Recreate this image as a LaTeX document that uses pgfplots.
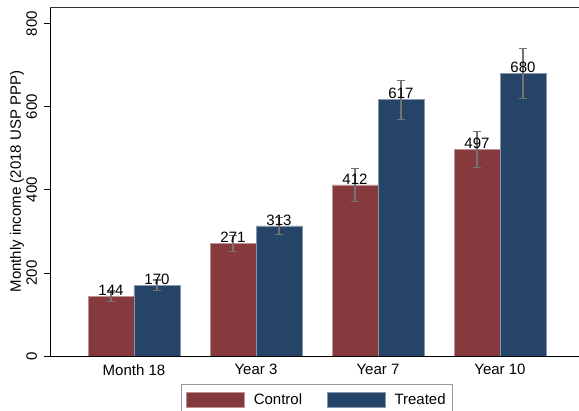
\documentclass[border=0pt]{standalone}
\usepackage{pgfplots}
\pgfplotsset{compat=1.18}
\usepackage{pgfplotstable}
\usepackage{fontspec}
\setmainfont{Liberation Sans}
\definecolor{ctrl}{RGB}{134,58,62}
\definecolor{trt}{RGB}{38,68,104}
\pgfplotstableread{
x c ce t te
0 144 13 170 13
1 271 20 313 20
2 412 40 617 47
3 497 43 680 60
}\data
\begin{document}
\begin{tikzpicture}[font=\fontsize{15}{18}\selectfont]
\begin{axis}[
  name=ax,
  scale only axis, width=534pt, height=349pt,
  xmin=-0.6885, xmax=3.6885, ymin=0, ymax=840,
  axis x line=bottom, axis y line=left,
  axis line style={-, black, line width=0.8pt},
  /pgf/number format/assume math mode=true,
  xtick={0,1,2,3}, xticklabels={Month 18, Year 3, Year 7, Year 10},
  major x tick style={draw=none},
  xticklabel style={anchor=north, inner sep=0pt, yshift=-2pt},
  ytick={0,200,400,600,800},
  tick align=outside, major tick length=6pt,
  major y tick style={black, line width=0.8pt},
  yticklabel style={xshift=-7pt, rotate=90, anchor=base, inner sep=0pt},
  ylabel={Monthly income (2018 USP PPP)},
  ylabel style={at={(axis description cs:-0.0618,0.5)}, anchor=center, rotate=0},
  ybar, bar width=0.377,
  legend columns=2,
  legend style={at={(0.5,-0.0802)}, anchor=north, draw=gray!80, line width=0.8pt,
    inner xsep=5pt, inner ysep=7pt,
    /tikz/every odd column/.append style={column sep=7pt},
    /tikz/every even column/.append style={column sep=23pt}},
  legend image code/.code={\fill[#1] (0pt,-7.5pt) rectangle (58pt,7.5pt);},
]
\addplot[fill=ctrl, draw=ctrl!55!white, line width=0.4pt, bar shift=-0.1885,
  error bars/.cd, y dir=both, y explicit,
  error bar style={gray!90!black, line width=1.1pt},
  error mark options={rotate=90, gray!90!black, mark size=4pt, line width=1.1pt}]
  table[x=x, y=c, y error=ce] {\data};
\addplot[fill=trt, draw=trt!55!white, line width=0.4pt, bar shift=0.1885,
  error bars/.cd, y dir=both, y explicit,
  error bar style={gray!90!black, line width=1.1pt},
  error mark options={rotate=90, gray!90!black, mark size=4pt, line width=1.1pt}]
  table[x=x, y=t, y error=te] {\data};
\addplot[ybar, draw=none, fill=none, bar shift=-0.1885, forget plot,
  nodes near coords, every node near coord/.append style={anchor=south, inner sep=0pt, yshift=0.5pt, text=black}]
  table[x=x, y=c] {\data};
\addplot[ybar, draw=none, fill=none, bar shift=0.1885, forget plot,
  nodes near coords, every node near coord/.append style={anchor=south, inner sep=0pt, yshift=0.5pt, text=black}]
  table[x=x, y=t] {\data};
\legend{Control, Treated}
\draw[black!80, line width=0.8pt] (rel axis cs:0,1) -- (rel axis cs:1,1);
\end{axis}
\pgfresetboundingbox
\useasboundingbox ([shift={(-50pt,-55pt)}]ax.south west) rectangle ([shift={(529pt,356pt)}]ax.south west);
\end{tikzpicture}
\end{document}
